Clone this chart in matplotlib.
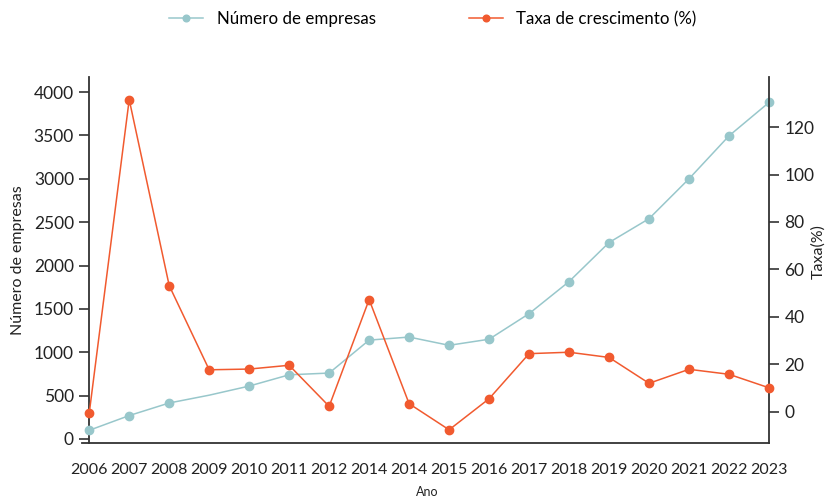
import numpy as np
import matplotlib.pyplot as plt

plt.rcParams['font.family'] = ['Lato', 'DejaVu Sans']

anos = ['2006', '2007', '2008', '2009', '2010', '2011', '2012', '2014', '2014',
        '2015', '2016', '2017', '2018', '2019', '2020', '2021', '2022', '2023']
empresas = [100, 270, 415, 505, 610, 740, 760, 1140, 1175,
            1080, 1150, 1445, 1815, 2265, 2540, 3000, 3495, 3880]
taxa = [-0.6, 131.6, 53.2, 17.7, 18.0, 19.6, 2.3, 47.3, 3.4,
        -7.6, 5.5, 24.5, 25.1, 22.9, 12.0, 17.9, 15.8, 10.1]

azul = '#98c7cb'
laranja = '#f15a2f'
escuro = '#333333'
texto = '#222222'

fig = plt.figure(figsize=(8.26, 4.98), dpi=100)
ax = fig.add_axes([0.0993, 0.1098, 0.8317, 0.735])
ax2 = ax.twinx()

x = np.arange(len(anos))
marcas = [i for i in range(len(anos)) if i != 3]
l1, = ax.plot(x, empresas, color=azul, lw=1.1, marker='o', ms=6,
              markevery=marcas, clip_on=False, zorder=3)
l2, = ax2.plot(x, taxa, color=laranja, lw=1.1, marker='o', ms=6,
               clip_on=False, zorder=3)

ax.set_xlim(-0.18, 17)
ax.set_ylim(-50, 4170)
ax2.set_ylim(-13.3, 141)
ax.set_yticks([0, 500, 1000, 1500, 2000, 2500, 3000, 3500, 4000])
ax2.set_yticks([0, 20, 40, 60, 80, 100, 120])
ax.set_xticks(x)
ax.set_xticklabels(anos)

for a in (ax, ax2):
    a.spines['top'].set_visible(False)
    for s in a.spines.values():
        s.set_color(escuro)
        s.set_linewidth(1.3)
ax.spines['right'].set_visible(False)
ax2.spines['left'].set_visible(False)
ax2.spines['bottom'].set_visible(False)
ax.spines['left'].set_position(('data', 0))

ax.tick_params(axis='x', length=0, pad=14, labelsize=11.5, colors=texto)
ax.tick_params(axis='y', length=7, width=1.2, color=escuro, labelsize=12.5,
               labelcolor=texto, pad=4)
ax2.tick_params(axis='y', length=7, width=1.2, color=escuro, labelsize=12.5,
                labelcolor=texto, pad=4)

ax.set_ylabel('Número de empresas', fontsize=11.5, color=texto, labelpad=6)
fig.text(818 / 826, 1 - 252 / 498, 'Taxa(%)', rotation=90, fontsize=11.5,
         color=texto, ha='center', va='center')
fig.text(427 / 826, 1 - 492 / 498, 'Ano', fontsize=9, color=texto,
         ha='center', va='center')

fig.legend([l1, l2], ['Número de empresas', 'Taxa de crescimento (%)'],
           loc='upper center', bbox_to_anchor=(0.524, 1.008), ncol=2,
           frameon=False, fontsize=12.2, columnspacing=5.5, handlelength=2,
           handletextpad=0.8, markerscale=0.8)

fig.savefig('out.png', dpi=100)
